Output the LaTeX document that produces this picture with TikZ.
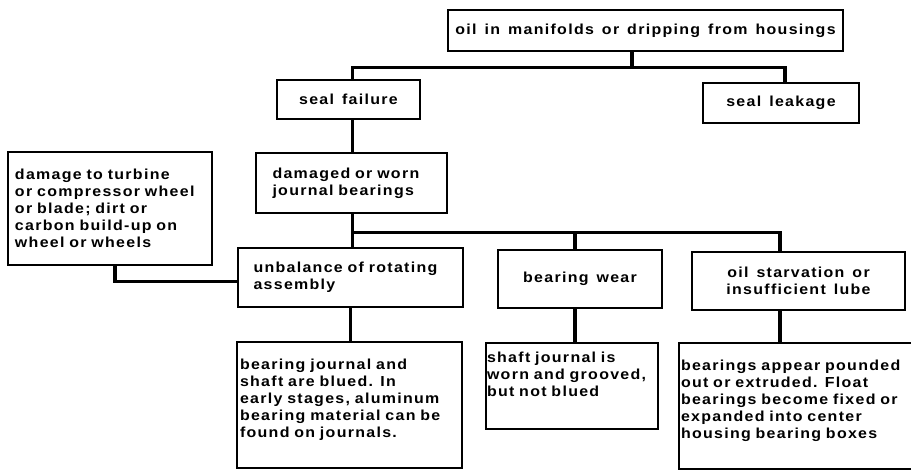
\documentclass[tikz,border=0pt]{standalone}
\usepackage{fontspec}
\setmainfont{Liberation Sans}[LetterSpace=9, FakeStretch=1.1, WordSpace=1.4]
\usetikzlibrary{calc}

\begin{document}
\begin{tikzpicture}[x=1pt,y=1pt,
		box/.style={draw, line width=1.4pt, inner sep=0pt, align=left,
			font=\bfseries\fontsize{14.5}{17}\selectfont},
		link/.style={line width=3.4pt}]
	\useasboundingbox (0,0) rectangle (911,-471);

	% the symptom and its two causes
	\node[box, align=center, minimum width=395pt, minimum height=41pt] (oil) at (645.5,-30.5) {oil in manifolds or dripping from housings};
	\node[box, align=center, minimum width=143pt, minimum height=39pt] (sealfail) at (348.5,-99.5) {seal failure};
	\node[box, align=center, minimum width=156pt, minimum height=40pt] (sealleak) at (781,-103) {seal leakage};

	% bearings
	\node[box, minimum width=191pt, minimum height=60pt, text width=158pt] (worn) at (351.5,-183) {damaged or worn\\journal bearings};
	\node[box, minimum width=204pt, minimum height=113pt, text width=190pt] (wheel) at (110,-208.5) {damage to turbine\\or compressor wheel\\or blade; dirt or\\carbon build-up on\\wheel or wheels};

	% second row
	\node[box, minimum width=225pt, minimum height=59pt, text width=194pt] (unbal) at (350.5,-277.5) {unbalance of rotating\\assembly};
	\node[box, align=center, minimum width=164pt, minimum height=58pt] (wear) at (580,-279) {bearing wear};
	\node[box, align=center, minimum width=213pt, minimum height=58pt] (starve) at (798.5,-281) {oil starvation or\\insufficient lube};

	% what is found
	\node[box, minimum width=225pt, text width=219pt, text height=27pt, text depth=99pt] (blued) at (349.5,-405) {bearing journal and\\shaft are blued. In\\early stages, aluminum\\bearing material can be\\found on journals.};
	\node[box, minimum width=172pt, text width=170pt, text height=19pt, text depth=67pt] (groove) at (572,-386) {shaft journal is\\worn and grooved,\\but not blued};
	\node[box, minimum width=245pt, text width=241pt, text height=27pt, text depth=99pt] (pound) at (801.5,-406) {bearings appear pounded\\out or extruded. Float\\bearings become fixed or\\expanded into center\\housing bearing boxes};

	% connectors
	\draw[link] ([xshift=-13.5pt]oil.south) -- ++(0,-16) coordinate (fork1);
	\draw[link] ([xshift=4pt]sealfail.north) |- (fork1) -| ([xshift=4pt]sealleak.north);
	\draw[link] ([xshift=4pt]sealfail.south) -- ([xshift=4pt]sealfail.south |- worn.north);
	\draw[link] ([xshift=1pt]worn.south) -- ([xshift=1pt]worn.south |- unbal.north);
	\path ([xshift=1pt]worn.south) ++(0,-19) coordinate (fork2);
	\draw[link] (fork2) -| ([xshift=-18.5pt]starve.north);
	\draw[link] ([xshift=-5pt]wear.north) -- ([xshift=-5pt]wear.north |- fork2);
	\draw[link] ([xshift=5pt]wheel.south) |- ([yshift=-4pt]unbal.west);
	\draw[link] (unbal.south) -- (unbal.south |- blued.north);
	\draw[link] ([xshift=-5pt]wear.south) -- ([xshift=-5pt]wear.south |- groove.north);
	\draw[link] ([xshift=-18.5pt]starve.south) -- ([xshift=-18.5pt]starve.south |- pound.north);
\end{tikzpicture}
\end{document}
